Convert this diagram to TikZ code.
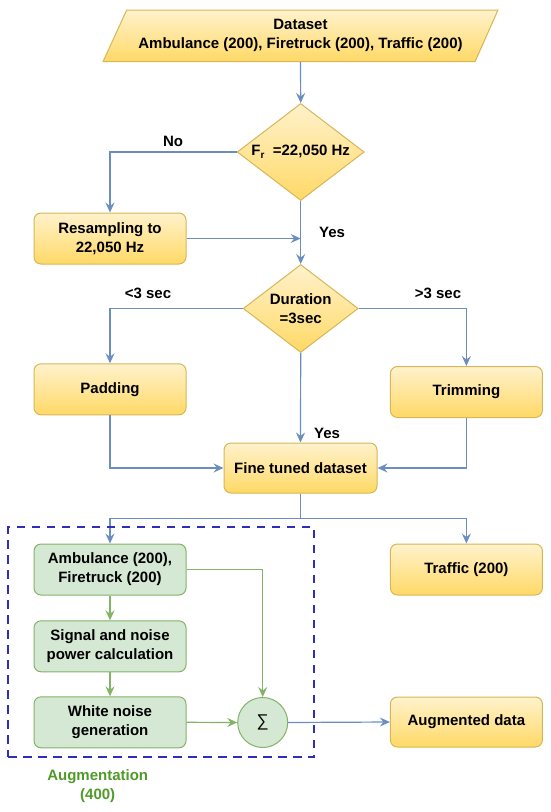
\documentclass[tikz,border=0pt]{standalone}
\usepackage{fontspec}
\setmainfont{Liberation Sans}
\usetikzlibrary{arrows.meta,shapes.geometric,calc}
\definecolor{yTop}{HTML}{FFF2CC}
\definecolor{yBot}{HTML}{FFD966}
\definecolor{yLine}{HTML}{D6B656}
\definecolor{gFill}{HTML}{D5E8D4}
\definecolor{gLine}{HTML}{82B366}
\definecolor{bLine}{HTML}{6C8EBF}
\definecolor{dashC}{HTML}{2E2EB8}
\definecolor{augC}{HTML}{4F9A28}
\begin{document}
\begin{tikzpicture}[x=1pt,y=-1pt,
  font=\fontsize{15}{19}\selectfont\bfseries,
  ybox/.style={draw=yLine, top color=yTop, bottom color=yBot, rounded corners=7pt,
    line width=1pt, minimum width=152pt, minimum height=51pt, align=center, inner sep=2pt},
  gbox/.style={draw=gLine, fill=gFill, rounded corners=7pt,
    line width=1pt, minimum width=152pt, minimum height=51pt, align=center, inner sep=2pt},
  ydia/.style={diamond, draw=yLine, top color=yTop, bottom color=yBot,
    line width=1pt, inner sep=0pt, align=center},
  tip/.style={-{Stealth[length=10pt,width=9pt,inset=3.5pt]}},
  bl/.style={draw=bLine, line width=1.2pt},
  arr/.style={bl, tip},
  gl/.style={draw=gLine, line width=1.2pt},
  garr/.style={gl, tip},
  lbl/.style={inner sep=0pt},
  dashbox/.style={draw=dashC, line width=1.6pt, dash pattern=on 8.5pt off 6.5pt}
]
\useasboundingbox (0,0) rectangle (550,812);

% dataset parallelogram
\path[draw=yLine, top color=yTop, bottom color=yBot, line width=1pt]
  (126.7,10) -- (498,10) -- (475,61.7) -- (103,61.7) -- cycle;
\node[align=center, minimum height=51.7pt, minimum width=300pt, inner sep=0pt] (ds) at (300.5,35.85)
  {Dataset\\Ambulance (200), Firetruck (200), Traffic (200)};

% decisions
\node[ydia, minimum width=127pt, minimum height=97pt, aspect=1.31] (d1) at (300.7,152)
  {F\raisebox{-3.5pt}{\fontsize{10}{10}\selectfont r}\ \ =22,050 Hz};
\node[ydia, minimum width=115pt, minimum height=88pt, aspect=1.307] (d2) at (300.7,308.5)
  {Duration\\=3sec};

% process boxes
\node[ybox] (rs) at (110,238.5) {Resampling to\\22,050 Hz};
\node[ybox] (pad) at (110,389.3) {Padding};
\node[ybox] (trim) at (466.4,392) {Trimming};
\node[ybox, minimum width=153pt, minimum height=50pt] (ft) at (300.5,468) {Fine tuned dataset};
\node[ybox] (tr) at (466.4,569.5) {Traffic (200)};
\node[ybox, minimum height=50pt] (aug) at (466.4,722) {Augmented data};

% augmentation group
\node[gbox] (amb) at (110,569.5) {Ambulance (200),\\Firetruck (200)};
\node[gbox] (sig) at (110,646.3) {Signal and noise\\power calculation};
\node[gbox] (wn) at (110,722.3) {White noise\\generation};
\node[circle, draw=gLine, fill=gFill, line width=1pt, minimum size=50pt, inner sep=0pt,
  font=\fontsize{17}{17}\selectfont] (sum) at (262.7,722.5) {∑};
\node[text=augC, align=center, inner sep=0pt] (auglbl) at (97.7,786.3) {Augmentation\\(400)};

% labels
\node[lbl] (lno) at (173,141) {No};
\node[lbl] (lyes1) at (332,232) {Yes};
\node[lbl] (lless) at (148,293) {<3 sec};
\node[lbl] (lmore) at (438,293) {>3 sec};
\node[lbl] (lyes2) at (327,433) {Yes};

% connectors
\draw[arr] (ds.south) -- (d1.north);
\draw[arr] (d1.west) -| (rs.north);
\draw[arr] (rs.east) -- (rs.east -| d1.south);
\draw[arr] (d1.south) -- (d2.north);
\draw[arr] (d2.west) -| (pad.north);
\draw[arr] (d2.east) -| (trim.north);
\draw[arr] (d2.south) -- (ft.north);
\draw[arr] (pad.south) |- (ft.west);
\draw[arr] (trim.south) |- (ft.east);
\draw[bl] (ft.south) -- ++(0,25.3) coordinate (split);
\draw[arr] (split) -| (amb.north);
\draw[arr] (split) -| (tr.north);
\draw[garr] (amb.south) -- (sig.north);
\draw[garr] (sig.south) -- (wn.north);
\draw[garr] (amb.east) -| (sum.north);
\draw[garr] (wn.east) -- (sum.west);
\draw[arr] (sum.east) -- (aug.west);

% dashed group frame
\node[dashbox, minimum width=306pt, minimum height=230pt, inner sep=0pt] (grp) at (161,642) {};
\end{tikzpicture}
\end{document}
